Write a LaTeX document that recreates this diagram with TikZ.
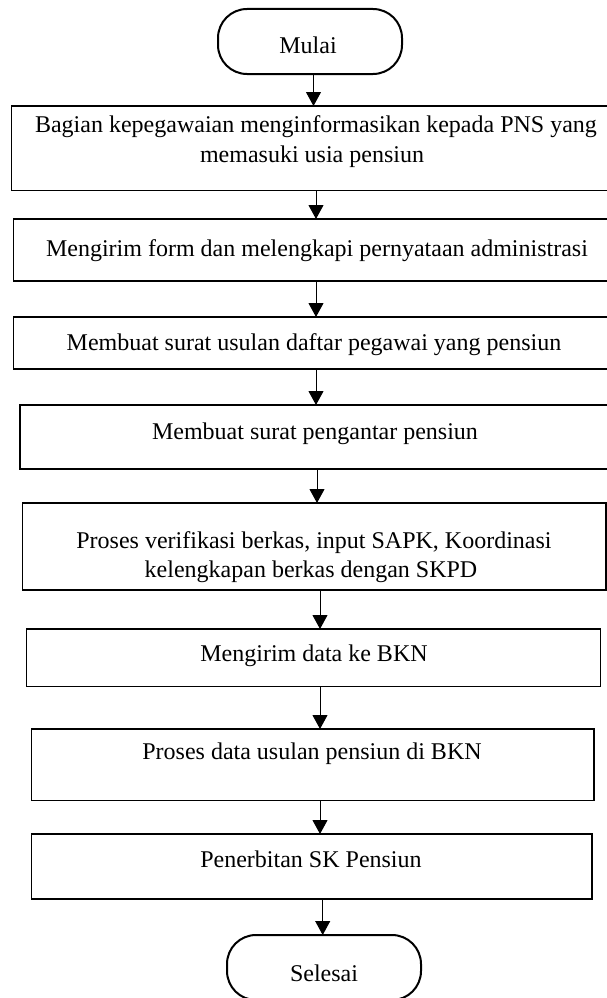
\documentclass[tikz,border=0pt]{standalone}
\usepackage{fontspec}
\setmainfont{Liberation Serif}
\usetikzlibrary{arrows.meta}
\tikzset{
  box/.style={draw=black, line width=1.2pt, inner sep=0pt, outer sep=0pt},
  term/.style={draw=black, line width=2pt, rounded corners=29pt, inner sep=0pt, outer sep=0pt},
  txt/.style={inner sep=0pt, outer sep=0pt, anchor=base, font=\fontsize{24}{29}\selectfont},
  arr/.style={draw=black, line width=1pt, -{Triangle[length=14pt, width=15pt]}}
}
\begin{document}
\begin{tikzpicture}[x=1pt, y=-1pt]
\useasboundingbox (0,0) rectangle (607,998);
\clip (0,0) rectangle (607,998);
% boxes
\node[term, minimum width=184pt, minimum height=65pt] (m) at (310,41.5) {};
\node[box, minimum width=603.3pt, minimum height=84.7pt] (b1) at (313.35,148.35) {};
\node[box, minimum width=601.7pt, minimum height=62pt] (b2) at (314.15,250) {};
\node[box, minimum width=601.7pt, minimum height=52pt] (b3) at (314.15,343) {};
\node[box, minimum width=595pt, minimum height=64pt] (b4) at (317.5,437) {};
\node[box, minimum width=583.7pt, minimum height=87pt] (b5) at (314.15,546.5) {};
\node[box, minimum width=574pt, minimum height=57.5pt] (b6) at (313.7,657.75) {};
\node[box, minimum width=562.3pt, minimum height=71.5pt] (b7) at (312.85,764.75) {};
\node[box, minimum width=560.3pt, minimum height=65pt] (b8) at (311.85,866.5) {};
\node[term, minimum width=194pt, minimum height=65pt] (s) at (324,967.5) {};
% texts
\node[txt] (tm) at (308,54) {Mulai};
\node[txt] (t1a) at (316,132) {Bagian kepegawaian menginformasikan kepada PNS yang};
\node[txt] (t1b) at (312,162) {memasuki usia pensiun};
\node[txt] (t2) at (317,256) {Mengirim form dan melengkapi pernyataan administrasi};
\node[txt] (t3) at (314,350) {Membuat surat usulan daftar pegawai yang pensiun};
\node[txt] (t4) at (315,439) {Membuat surat pengantar pensiun};
\node[txt] (t5a) at (314,548) {Proses verifikasi berkas, input SAPK, Koordinasi};
\node[txt] (t5b) at (311,577) {kelengkapan berkas dengan SKPD};
\node[txt] (t6) at (314,661) {Mengirim data ke BKN};
\node[txt] (t7) at (312,759) {Proses data usulan pensiun di BKN};
\node[txt] (t8) at (311,867) {Penerbitan SK Pensiun};
\node[txt] (ts) at (324,981) {Selesai};
% arrow columns
\coordinate (a1) at (313.5,0);
\coordinate (a2) at (316,0);
\coordinate (a3) at (316,0);
\coordinate (a4) at (316,0);
\coordinate (a5) at (317,0);
\coordinate (a6) at (320,0);
\coordinate (a7) at (320,0);
\coordinate (a8) at (320,0);
\coordinate (a9) at (322.7,0);
% connectors
\draw[arr] (m.south -| a1) -- (b1.north -| a1);
\draw[arr] (b1.south -| a2) -- (b2.north -| a2);
\draw[arr] (b2.south -| a3) -- (b3.north -| a3);
\draw[arr] (b3.south -| a4) -- (b4.north -| a4);
\draw[arr] (b4.south -| a5) -- (b5.north -| a5);
\draw[arr] (b5.south -| a6) -- (b6.north -| a6);
\draw[arr] (b6.south -| a7) -- (b7.north -| a7);
\draw[arr] (b7.south -| a8) -- (b8.north -| a8);
\draw[arr] (b8.south -| a9) -- (s.north -| a9);
\end{tikzpicture}
\end{document}
